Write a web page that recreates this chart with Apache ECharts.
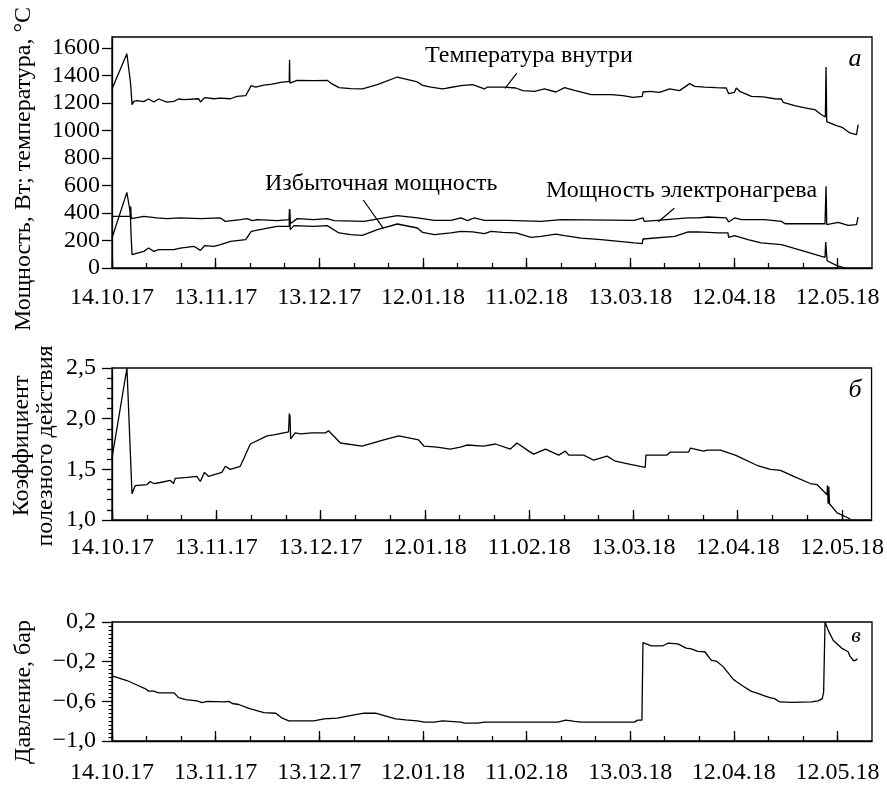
<!DOCTYPE html>
<html><head><meta charset="utf-8">
<script src="https://cdn.jsdelivr.net/npm/echarts@6/dist/echarts.min.js"></script>
<style>html,body{margin:0;padding:0;background:#fff}#c{width:887px;height:785px}</style>
</head><body><div id="c"></div>
<script>
// x values: days since 14.10.17; major ticks every 30 days
const dateTicks = ['14.10.17','13.11.17','13.12.17','12.01.18','11.02.18','13.03.18','12.04.18','12.05.18'];
const tempTicks = [0,200,400,600,800,1000,1200,1400,1600];

const tempInside = [[0,1302],[4.3,1559],[5.3,1358],[5.5,1300],[5.8,1188],[6.3,1212],[7.2,1217],[9.2,1210],[10.6,1229],[12.1,1207],[13.5,1229],[15.9,1207],[17.9,1212],[19.3,1229],[20.8,1224],[25.1,1231],[25.6,1207],[26.8,1239],[29.5,1231],[31.4,1236],[34.3,1231],[36.2,1248],[38.7,1253],[40.3,1326],[41.6,1316],[43.9,1330],[46.4,1338],[48.8,1350],[51.3,1358],[51.4,1515],[51.5,1345],[51.9,1350],[53.6,1365],[58.4,1362],[62.3,1365],[63.3,1345],[65.7,1312],[69.1,1304],[72.5,1302],[76.8,1333],[82.6,1389],[88.4,1353],[89.9,1328],[92.3,1316],[95.7,1302],[97.1,1309],[101.0,1326],[104.4,1333],[107.8,1302],[108.7,1316],[113.6,1316],[116.9,1309],[118.9,1290],[122.3,1285],[125.2,1302],[128.5,1280],[131.0,1312],[133.9,1292],[138.7,1261],[144.5,1261],[147.9,1253],[150.8,1241],[153.5,1248],[153.7,1280],[155.6,1285],[158.5,1278],[161.4,1302],[164.3,1290],[167.2,1341],[168.7,1321],[171.6,1316],[174.9,1312],[177.8,1309],[178.5,1268],[180.2,1278],[180.7,1309],[181.7,1285],[185.1,1248],[188.5,1244],[191.8,1231],[193.8,1229],[194.3,1205],[197.6,1181],[200.6,1164],[203.4,1152],[205.4,1115],[206.5,1098],[206.7,1462],[206.9,1065],[207.0,1059],[209.7,1035],[211.2,1025],[213.6,982],[215.5,970],[216.0,1042]];

const powerHeater = [[0,376],[5.3,376],[5.4,448],[5.6,359],[5.8,359],[9.2,376],[13.0,364],[15.9,359],[19.8,364],[25.6,359],[31.4,364],[32.8,339],[37.2,352],[39.1,359],[40.6,344],[42.0,352],[47.8,344],[51.3,352],[51.4,429],[51.6,322],[53.6,359],[58.4,352],[62.3,359],[64.3,344],[72.9,339],[82.6,381],[88.4,364],[93.3,347],[98.1,347],[101.0,364],[102.9,344],[104.9,364],[107.8,347],[114.5,347],[124.2,339],[130.0,352],[151.2,347],[153.7,364],[154.1,339],[166.7,364],[169.6,364],[172.5,371],[177.8,364],[178.5,335],[180.2,364],[182.2,352],[188.9,352],[193.8,339],[194.8,322],[206.4,322],[206.7,594],[206.9,315],[210.2,332],[213.1,310],[215.5,315],[216.0,371]];

const powerExcess = [[0,218],[4.3,550],[5.3,400],[5.5,255],[5.8,97],[6.3,109],[9.2,121],[10.6,145],[12.1,121],[13.5,133],[17.9,133],[19.8,145],[23.7,158],[25.6,128],[26.8,162],[29.5,158],[31.4,170],[34.3,194],[38.7,206],[40.3,267],[43.9,284],[47.8,303],[51.3,303],[51.4,429],[51.6,279],[52.7,308],[58.4,303],[62.3,308],[65.7,255],[69.1,242],[72.5,238],[76.8,279],[82.6,320],[88.4,291],[89.9,259],[93.3,242],[98.1,255],[101.0,267],[104.4,262],[107.8,250],[109.7,267],[113.1,259],[116.9,255],[121.3,223],[124.2,230],[128.5,247],[131.0,235],[135.8,218],[141.6,206],[151.2,182],[153.5,177],[153.7,211],[162.9,230],[166.8,262],[169.6,262],[175.4,255],[178.3,255],[178.5,223],[180.2,235],[184.1,206],[187.9,182],[193.8,170],[200.5,121],[205.4,85],[206.4,78],[206.6,189],[207.0,53],[209.7,19],[212.2,0]];

const efficiency = [[0,1.61],[4.3,2.50],[5.75,1.26],[6.7,1.34],[10.1,1.35],[11.0,1.38],[12.0,1.36],[13.9,1.37],[16.8,1.39],[17.7,1.36],[18.2,1.41],[21.6,1.42],[24.4,1.43],[25.4,1.38],[26.6,1.47],[27.8,1.43],[31.6,1.47],[32.6,1.53],[34.0,1.50],[36.9,1.53],[39.8,1.75],[44.6,1.83],[46.5,1.84],[50.8,1.87],[51.0,2.05],[51.2,2.03],[51.4,1.80],[51.6,1.81],[52.7,1.86],[54.2,1.85],[57.5,1.86],[61.4,1.86],[62.3,1.88],[65.7,1.76],[71.9,1.73],[78.2,1.79],[82.5,1.83],[88.2,1.79],[89.7,1.73],[93.5,1.72],[97.3,1.70],[97.8,1.69],[100.2,1.72],[102.1,1.74],[106.9,1.73],[110.3,1.75],[114.6,1.70],[116.5,1.76],[119.9,1.68],[121.3,1.65],[124.7,1.70],[128.5,1.64],[130.4,1.68],[131.4,1.64],[135.7,1.64],[138.6,1.59],[142.4,1.63],[144.8,1.58],[149.1,1.55],[153.4,1.52],[153.6,1.64],[159.6,1.64],[160.6,1.67],[165.9,1.67],[166.4,1.71],[170.2,1.68],[171.2,1.69],[175.0,1.69],[179.3,1.64],[185.5,1.54],[189.4,1.50],[192.3,1.49],[196.1,1.43],[200.9,1.36],[202.8,1.35],[205.7,1.25],[205.8,1.34],[206.0,1.16],[206.2,1.33],[206.4,1.16],[206.7,1.15],[208.6,1.07],[212.4,1.01]];

const pressure = [[0,-0.343],[4.3,-0.39],[7.2,-0.435],[9.7,-0.474],[10.6,-0.497],[12.1,-0.497],[13.5,-0.514],[17.9,-0.514],[19.3,-0.563],[21.3,-0.583],[24.6,-0.596],[26.1,-0.613],[27.5,-0.60],[32.4,-0.606],[33.8,-0.60],[34.8,-0.622],[36.7,-0.632],[39.6,-0.672],[44.0,-0.714],[47.4,-0.72],[49.3,-0.77],[51.2,-0.797],[58.4,-0.797],[61.4,-0.777],[65.2,-0.77],[70.1,-0.737],[73.0,-0.72],[76.3,-0.72],[78.8,-0.744],[82.1,-0.777],[85.0,-0.787],[88.4,-0.797],[90.4,-0.81],[93.3,-0.81],[95.7,-0.797],[101.0,-0.81],[102.0,-0.82],[105.8,-0.82],[107.8,-0.81],[129.0,-0.81],[131.4,-0.79],[133.9,-0.803],[135.8,-0.81],[151.2,-0.81],[152.2,-0.79],[153.4,-0.79],[153.7,-0.007],[156.1,-0.04],[159.5,-0.04],[160.9,-0.014],[163.8,-0.02],[166.2,-0.063],[167.7,-0.07],[169.6,-0.096],[171.6,-0.10],[173.5,-0.188],[175.0,-0.195],[176.9,-0.25],[179.8,-0.376],[180.7,-0.40],[182.7,-0.448],[185.1,-0.50],[186.5,-0.514],[188.5,-0.54],[190.4,-0.563],[191.8,-0.573],[193.3,-0.606],[196.7,-0.61],[202.5,-0.606],[204.4,-0.596],[205.6,-0.573],[206.0,-0.507],[206.4,0.2],[207.3,0.118],[208.8,0.013],[211.2,-0.063],[213.1,-0.10],[213.6,-0.145],[214.6,-0.188],[215.2,-0.188],[215.8,-0.17]];

const FONT = 'Liberation Serif';
const BLACK = '#000';
const chart = echarts.init(document.getElementById('c'), null, {renderer: 'canvas'});

function dateLabel(v) {
  const i = Math.round(v / 30);
  if (Math.abs(v - i * 30) < 0.01 && i >= 0 && i < dateTicks.length) return dateTicks[i];
  return '';
}
function commaNum(v) {
  const s = Math.abs(v).toFixed(1).replace('.', ',');
  return (v < -1e-9 ? '\u2212' : '') + s;
}

const xMax = [220, 218.5, 220];
const xMargin = [18, 16, 20];
const xAxes = [];
for (let g = 0; g < 3; g++) {
  xAxes.push({
    type: 'value', gridIndex: g, position: 'bottom', min: 0, max: xMax[g], interval: 30,
    axisLine: {show: true, onZero: false, lineStyle: {color: BLACK, width: 1.3}},
    axisTick: {show: true, inside: true, length: 10, lineStyle: {color: BLACK, width: 1.3},
               customValues: [0,30,60,90,120,150,180,210]},
    axisLabel: {color: BLACK, fontFamily: FONT, fontSize: 24, margin: xMargin[g], formatter: dateLabel,
                customValues: [0,30,60,90,120,150,180,210]},
    splitLine: {show: false}
  });
  xAxes.push({
    type: 'value', gridIndex: g, position: 'bottom', min: 0, max: xMax[g], interval: 10,
    axisLine: {show: false, onZero: false},
    axisTick: {show: true, inside: true, length: 5, lineStyle: {color: BLACK, width: 1.3},
               customValues: [0,10,20,30,40,50,60,70,80,90,100,110,120,130,140,150,160,170,180,190,200,210]},
    axisLabel: {show: false},
    splitLine: {show: false}
  });
}

const yBase = {
  type: 'value',
  axisLine: {show: true, onZero: false, lineStyle: {color: BLACK, width: 1.3}},
  axisTick: {show: true, inside: false, length: 10, lineStyle: {color: BLACK, width: 1.3}},
  splitLine: {show: false}
};
const yAxes = [
  Object.assign({}, yBase, {gridIndex: 0, min: 0, max: 1680, interval: 200,
    axisTick: Object.assign({}, yBase.axisTick, {customValues: tempTicks}),
    axisLabel: {color: BLACK, fontFamily: FONT, fontSize: 24, margin: 12, customValues: tempTicks,
      formatter: v => (v % 200 === 0 && v <= 1600) ? String(v) : ''}}),
  Object.assign({}, yBase, {gridIndex: 1, min: 1.0, max: 2.5, interval: 0.5,
    minorTick: {show: true, splitNumber: 5, length: 5, lineStyle: {color: BLACK, width: 1.3}},
    axisLabel: {color: BLACK, fontFamily: FONT, fontSize: 24, margin: 16, formatter: commaNum}}),
  Object.assign({}, yBase, {gridIndex: 2, min: -1.0, max: 0.2, interval: 0.4,
    minorTick: {show: true, splitNumber: 10, length: 3.5, lineStyle: {color: BLACK, width: 1.1}},
    axisLabel: {color: BLACK, fontFamily: FONT, fontSize: 24, margin: 16, formatter: commaNum}})
];

function lineSeries(data, g) {
  return {type: 'line', data: data, xAxisIndex: g * 2, yAxisIndex: g, symbol: 'none',
          lineStyle: {color: BLACK, width: 1.3}, clip: true, silent: true};
}

const txt = (x, y, text, extra) => ({type: 'text', x: x, y: y, silent: true,
  style: Object.assign({text: text, fill: BLACK, font: '24px "' + FONT + '"', textAlign: 'left', textVerticalAlign: 'middle'}, extra || {})});
const vtxt = (x, y, text) => ({type: 'text', x: x, y: y, rotation: Math.PI / 2, silent: true,
  style: {text: text, fill: BLACK, font: '24px "' + FONT + '"', textAlign: 'center', textVerticalAlign: 'middle'}});
const seg = (x1, y1, x2, y2) => ({type: 'line', silent: true, shape: {x1: x1, y1: y1, x2: x2, y2: y2},
  style: {stroke: BLACK, lineWidth: 1.2}});

chart.setOption({
  animation: false,
  backgroundColor: '#fff',
  grid: [
    {left: 112, width: 760, top: 37, height: 231, show: true, borderColor: BLACK, borderWidth: 1.3, containLabel: false},
    {left: 112, width: 760, top: 368, height: 152, show: true, borderColor: BLACK, borderWidth: 1.3, containLabel: false},
    {left: 112, width: 760, top: 622, height: 121, show: true, borderColor: BLACK, borderWidth: 1.3, containLabel: false}
  ],
  xAxis: xAxes,
  yAxis: yAxes,
  series: [
    lineSeries(tempInside, 0),
    lineSeries(powerHeater, 0),
    lineSeries(powerExcess, 0),
    lineSeries(efficiency, 1),
    lineSeries(pressure, 2)
  ],
  graphic: [
    vtxt(24, 169, 'Мощность, Вт; температура, °С'),
    vtxt(22, 446, 'Коэффициент'),
    vtxt(46, 446, 'полезного действия'),
    vtxt(24, 692, 'Давление, бар'),
    txt(425, 56, 'Температура внутри'),
    txt(265, 184, 'Избыточная мощность'),
    txt(546, 191, 'Мощность электронагрева'),
    seg(516.7, 73.3, 505, 88.3),
    seg(363.3, 200, 383.3, 228.3),
    seg(674.3, 208.3, 658.3, 221.7),
    txt(855, 59, 'а', {textAlign: 'center', font: 'italic 26px "' + FONT + '"'}),
    txt(855, 390, 'б', {textAlign: 'center', font: 'italic 26px "' + FONT + '"'}),
    txt(856, 636, 'в', {textAlign: 'center', font: 'italic 22px "' + FONT + '"'})
  ]
});
</script>
</body></html>
